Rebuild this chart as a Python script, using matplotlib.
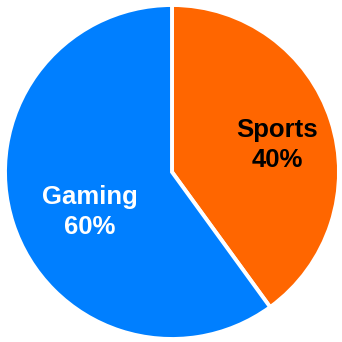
import matplotlib
matplotlib.use("Agg")
import matplotlib.pyplot as plt
import matplotlib.transforms as mtransforms

categories = ["Sports", "Gaming"]
values = [40, 60]
colors = ["#FF6600", "#007FFF"]
text_colors = ["black", "white"]
label_offsets_px = [(10, -4), (13, -9)]

fig = plt.figure(figsize=(3.42, 3.42), dpi=100)
ax = fig.add_axes([0, 0, 1, 1])
labels = [f"{c}\n{v}%" for c, v in zip(categories, values)]
wedges, texts = ax.pie(values, labels=labels, colors=colors, startangle=90,
                       counterclock=False, labeldistance=0.6,
                       wedgeprops=dict(edgecolor="white", linewidth=2.8),
                       textprops=dict(fontsize=18.5, fontweight="bold",
                                      family="Liberation Sans",
                                      ha="center", va="center",
                                      linespacing=1.3))
for t, tc, (dx, dy) in zip(texts, text_colors, label_offsets_px):
    t.set_color(tc)
    t.set_horizontalalignment("center")
    t.set_transform(mtransforms.offset_copy(ax.transData, fig=fig, x=dx, y=dy, units="dots"))
r = 167.0
ax.set_xlim(-172 / r, 170 / r)
ax.set_ylim(-170 / r, 172 / r)
ax.set_aspect("equal")
ax.axis("off")
fig.savefig("out.png", dpi=100)
